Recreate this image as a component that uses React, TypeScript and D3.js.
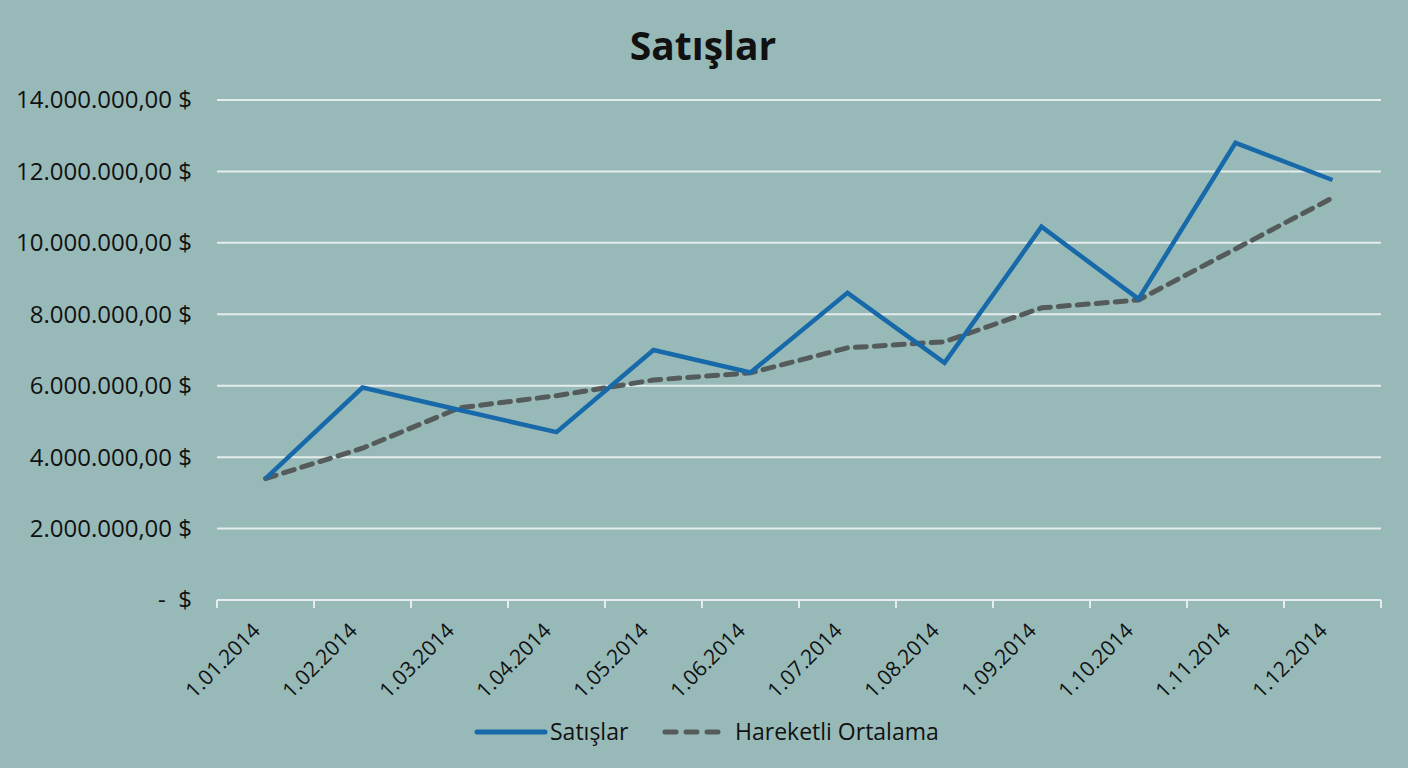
import React, { useEffect } from "react";
import * as d3 from "d3";

const months = [
  "1.01.2014", "1.02.2014", "1.03.2014", "1.04.2014", "1.05.2014", "1.06.2014",
  "1.07.2014", "1.08.2014", "1.09.2014", "1.10.2014", "1.11.2014", "1.12.2014",
];
const sales = [
  3400000, 5950000, 5320000, 4700000, 7000000, 6370000,
  8600000, 6640000, 10450000, 8430000, 12800000, 11760000,
];
const movingAvg = [
  3400000, 4250000, 5380000, 5720000, 6160000, 6360000,
  7060000, 7230000, 8180000, 8400000, 9830000, 11260000,
];
const yTicks = [0, 2000000, 4000000, 6000000, 8000000, 10000000, 12000000, 14000000];

const W = 1408;
const H = 768;
const M = { top: 100, right: 27, bottom: 168, left: 217 };
const FONT = "'Open Sans', 'Noto Sans', sans-serif";
const BG = "#97bab9";
const BLUE = "#1769aa";
const GRAY = "#555a5b";

const fmtMoney = (v: number) => {
  if (v === 0) return "-  $";
  const s = d3.format(",.2f")(v); // 14,000,000.00
  return s.replace(/,/g, "#").replace(".", ",").replace(/#/g, ".") + " $";
};

export default function App() {
  useEffect(() => {
    document.body.style.margin = "0";
    document.body.style.background = BG;
  }, []);

  const x = d3
    .scaleBand<string>()
    .domain(months)
    .range([M.left, W - M.right]);
  const y = d3
    .scaleLinear()
    .domain([0, 14000000])
    .range([H - M.bottom, M.top]);

  const cx = (m: string) => (x(m) ?? 0) + x.bandwidth() / 2;

  const line = d3
    .line<number>()
    .x((_, i) => cx(months[i]))
    .y((d) => y(d));

  const boundaries = [...months.map((m) => x(m) ?? 0), W - M.right];

  return (
    <svg width={W} height={H} style={{ display: "block", background: BG }} fontFamily={FONT}>
      <rect width={W} height={H} fill={BG} />
      <text x={703} y={60} textAnchor="middle" fontSize={39} fontWeight={700} fill="#111">
        Satışlar
      </text>

      {/* gridlines */}
      {yTicks.map((t) => (
        <line
          key={t}
          x1={M.left}
          x2={W - M.right}
          y1={y(t)}
          y2={y(t)}
          stroke="#e4ecec"
          strokeWidth={2}
        />
      ))}

      {/* y labels */}
      {yTicks.map((t) => (
        <text
          key={"l" + t}
          x={192}
          y={y(t)}
          dy="0.35em"
          textAnchor="end"
          fontSize={24}
          fill="#111"
          style={{ whiteSpace: "pre" }}
        >
          {fmtMoney(t)}
        </text>
      ))}

      {/* x ticks */}
      {boundaries.map((b, i) => (
        <line
          key={"t" + i}
          x1={b}
          x2={b}
          y1={y(0)}
          y2={y(0) + 8}
          stroke="#e4ecec"
          strokeWidth={2}
        />
      ))}

      {/* x labels */}
      {months.map((m) => (
        <text
          key={"x" + m}
          transform={`translate(${cx(m) - 4},${y(0) + 32}) rotate(-45)`}
          textAnchor="end"
          fontSize={21}
          fill="#111"
        >
          {m}
        </text>
      ))}

      {/* series */}
      <path
        d={line(movingAvg) ?? ""}
        fill="none"
        stroke={GRAY}
        strokeWidth={5}
        strokeDasharray="11 8"
        strokeLinecap="round"
        strokeLinejoin="round"
      />
      <path
        d={line(sales) ?? ""}
        fill="none"
        stroke={BLUE}
        strokeWidth={4.5}
        strokeLinejoin="miter"
      />

      {/* legend */}
      <g>
        <line x1={477} x2={545} y1={732} y2={732} stroke={BLUE} strokeWidth={5} strokeLinecap="round" />
        <text x={550} y={732} dy="0.35em" fontSize={23} fill="#111">
          Satışlar
        </text>
        <line
          x1={665}
          x2={728}
          y1={732}
          y2={732}
          stroke={GRAY}
          strokeWidth={5}
          strokeDasharray="11 10"
          strokeLinecap="round"
        />
        <text x={735} y={732} dy="0.35em" fontSize={23} fill="#111">
          Hareketli Ortalama
        </text>
      </g>
    </svg>
  );
}
